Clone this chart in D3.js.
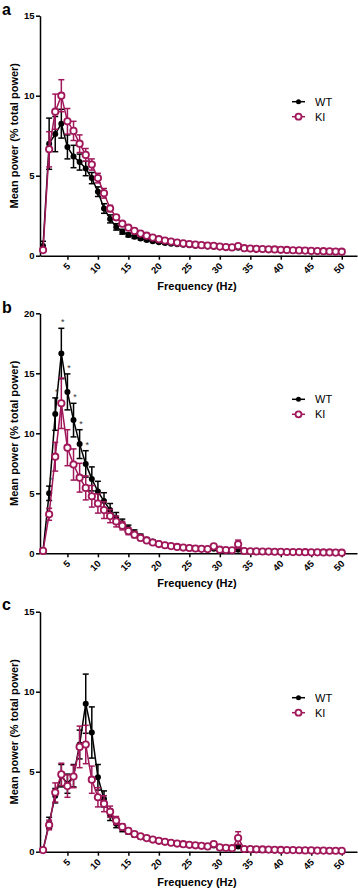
<!DOCTYPE html>
<html>
<head>
<meta charset="utf-8">
<script src="https://cdn.jsdelivr.net/npm/d3@7"></script>
<style>
  body { margin: 0; background: #fff; }
  svg { display: block; font-family: Arial, "Liberation Sans", sans-serif; }
</style>
</head>
<body>
<svg width="358" height="892"></svg>
<script>
// frequencies 1..50 Hz
const freqs = [1,2,3,4,5,6,7,8,9,10,11,12,13,14,15,16,17,18,19,20,21,22,23,24,25,
  26,27,28,29,30,31,32,33,34,35,36,37,38,39,40,41,42,43,44,45,46,47,48,49,50];
const xTicks = [5,10,15,20,25,30,35,40,45,50];
const seriesNames = ["WT", "KI"];

// panel a
const wtA = [0.6,7.0,7.6,8.25,6.8,6.2,5.85,5.45,4.85,4.0,2.95,2.3,1.8,1.5,1.3,1.18,1.07,0.98,0.9,0.84,
  0.79,0.75,0.71,0.68,0.65,0.62,0.6,0.57,0.56,0.53,0.5,0.48,0.5,0.43,0.41,0.4,0.38,0.37,0.35,0.34,
  0.33,0.31,0.3,0.29,0.28,0.26,0.25,0.24,0.23,0.22];
const wtAErr = [0.3,1.6,1.1,0.9,0.75,0.7,0.5,0.45,0.35,0.3,0.3,0.25,0.2,0.15,0.12,0.1,0.08,0.08,0.07,0.06,
  0.06,0.05,0.05,0.05,0.05,0.04,0.04,0.04,0.04,0.04,0.04,0.04,0.05,0.03,0.03,0.03,0.03,0.03,0.03,0.03,
  0.03,0.03,0.03,0.03,0.03,0.03,0.03,0.03,0.03,0.03];
const kiA = [0.35,6.65,9.0,10.0,8.4,7.8,7.0,6.3,5.7,4.85,3.9,2.95,2.4,2.0,1.75,1.55,1.38,1.25,1.13,1.03,
  0.95,0.88,0.82,0.77,0.73,0.69,0.66,0.63,0.62,0.57,0.54,0.52,0.6,0.47,0.45,0.43,0.42,0.4,0.39,0.37,
  0.36,0.34,0.33,0.32,0.3,0.29,0.28,0.27,0.26,0.25];
const kiAErr = [0.1,1.1,1.1,1.0,0.8,0.6,0.55,0.4,0.35,0.3,0.3,0.2,0.15,0.12,0.1,0.08,0.07,0.06,0.06,0.05,
  0.05,0.05,0.04,0.04,0.04,0.04,0.04,0.04,0.04,0.04,0.03,0.03,0.06,0.03,0.03,0.03,0.03,0.03,0.03,0.03,
  0.03,0.03,0.03,0.03,0.03,0.03,0.03,0.03,0.03,0.03];

// panel b
const wtB = [0.25,5.0,11.6,16.65,13.45,11.1,9.1,7.45,6.2,5.15,4.35,3.6,2.95,2.5,2.05,1.7,1.4,1.15,0.98,0.83,
  0.72,0.63,0.56,0.5,0.46,0.42,0.39,0.36,0.38,0.31,0.28,0.26,0.3,0.2,0.18,0.17,0.16,0.15,0.14,0.13,
  0.12,0.11,0.1,0.1,0.09,0.08,0.08,0.07,0.07,0.06];
const wtBErr = [0.1,0.6,1.35,2.1,1.5,1.4,1.2,1.1,1.0,0.85,0.7,0.55,0.45,0.35,0.3,0.25,0.2,0.15,0.12,0.1,
  0.08,0.07,0.06,0.06,0.05,0.05,0.05,0.04,0.05,0.04,0.04,0.04,0.06,0.03,0.03,0.03,0.03,0.03,0.03,0.03,
  0.03,0.03,0.03,0.03,0.03,0.03,0.03,0.03,0.03,0.03];
const kiB = [0.2,3.25,8.05,12.5,8.8,7.4,6.3,5.45,4.75,4.15,3.6,3.1,2.65,2.3,1.85,1.55,1.28,1.07,0.9,0.77,
  0.67,0.6,0.53,0.48,0.44,0.4,0.37,0.35,0.58,0.3,0.27,0.25,0.75,0.19,0.17,0.16,0.15,0.14,0.13,0.12,
  0.11,0.1,0.1,0.09,0.08,0.08,0.07,0.07,0.06,0.05];
const kiBErr = [0.1,0.5,1.2,2.1,1.5,1.3,1.2,1.0,0.9,0.8,0.7,0.55,0.45,0.35,0.3,0.25,0.2,0.15,0.12,0.1,
  0.08,0.07,0.06,0.06,0.05,0.05,0.05,0.04,0.12,0.04,0.04,0.04,0.35,0.03,0.03,0.03,0.03,0.03,0.03,0.03,
  0.03,0.03,0.03,0.03,0.03,0.03,0.03,0.03,0.03,0.03];
const sigB = [2,3,4,5,6,7,8];

// panel c
const wtC = [0.1,1.8,3.5,4.75,4.25,4.75,6.7,9.25,7.45,4.65,3.3,2.3,1.75,1.45,1.25,1.05,0.92,0.82,0.74,0.66,
  0.6,0.54,0.49,0.45,0.41,0.38,0.35,0.32,0.38,0.26,0.23,0.21,0.32,0.16,0.15,0.14,0.13,0.12,0.11,0.1,
  0.1,0.09,0.08,0.08,0.07,0.07,0.06,0.06,0.05,0.05];
const wtCErr = [0.05,0.35,0.45,0.7,0.6,0.7,0.9,1.85,1.6,0.8,0.5,0.35,0.25,0.2,0.15,0.12,0.1,0.08,0.07,0.06,
  0.05,0.05,0.05,0.04,0.04,0.04,0.04,0.04,0.06,0.03,0.03,0.03,0.1,0.03,0.03,0.03,0.03,0.03,0.03,0.03,
  0.03,0.03,0.03,0.03,0.03,0.03,0.03,0.03,0.03,0.03];
const kiC = [0.1,1.67,3.7,4.83,4.1,4.7,6.55,6.7,4.5,3.4,3.0,2.5,1.95,1.55,1.3,1.1,0.96,0.85,0.76,0.68,
  0.62,0.56,0.51,0.47,0.43,0.4,0.37,0.33,0.48,0.27,0.24,0.22,0.85,0.17,0.16,0.15,0.14,0.13,0.12,0.11,
  0.1,0.1,0.09,0.08,0.08,0.07,0.07,0.06,0.06,0.05];
const kiCErr = [0.05,0.3,0.6,0.7,0.7,0.7,1.3,1.2,0.85,0.6,0.5,0.35,0.25,0.2,0.15,0.12,0.1,0.08,0.07,0.06,
  0.05,0.05,0.05,0.04,0.04,0.04,0.04,0.04,0.1,0.03,0.03,0.03,0.4,0.03,0.03,0.03,0.03,0.03,0.03,0.03,
  0.03,0.03,0.03,0.03,0.03,0.03,0.03,0.03,0.03,0.03];

const WT_COL = "#000";
const KI_COL = "#a0175a";

const svg = d3.select("svg");
svg.append("rect").attr("width", 358).attr("height", 892).attr("fill", "#fff");

const x = d3.scaleLinear().domain([0.5, 52.5]).range([40, 357]);

function drawPanel(p) {
  const y = d3.scaleLinear().domain([0, p.yMax]).range([p.y0, p.y0 - 240]);
  const g = svg.append("g");

  // panel letter
  g.append("text")
    .attr("x", 2).attr("y", p.letterY)
    .style("font-size", "16px").style("font-weight", "bold")
    .text(p.letter);

  // y axis
  const ya = g.append("g")
    .attr("transform", "translate(40,0)")
    .call(d3.axisLeft(y).tickValues(p.yTicks).tickSize(4).tickSizeOuter(0).tickPadding(1.5));
  ya.selectAll("path, line").attr("stroke", "#000").attr("stroke-width", 1.5);
  ya.selectAll("text").style("font-size", "9.5px").style("font-weight", "bold").attr("fill", "#000");

  // x axis
  const xa = g.append("g")
    .attr("transform", "translate(0," + p.y0 + ")")
    .call(d3.axisBottom(x).tickValues(xTicks).tickSize(4).tickSizeOuter(0));
  xa.selectAll("path, line").attr("stroke", "#000").attr("stroke-width", 1.5);
  xa.selectAll("text")
    .attr("x", 0).attr("y", 0).attr("dy", 0)
    .attr("transform", "translate(3,11) rotate(-45)")
    .style("text-anchor", "end")
    .style("font-size", "9.5px").style("font-weight", "bold").attr("fill", "#000");

  // axis titles
  g.append("text")
    .attr("transform", "translate(17.5," + (p.y0 - 120) + ") rotate(-90)")
    .attr("text-anchor", "middle")
    .style("font-size", "11px").style("font-weight", "bold")
    .text("Mean power (% total power)");
  g.append("text")
    .attr("x", 197).attr("y", p.y0 + 34)
    .attr("text-anchor", "middle")
    .style("font-size", "11px").style("font-weight", "bold")
    .text("Frequency (Hz)");

  const series = [
    { name: "WT", mean: p.wt, err: p.wtErr, col: WT_COL, open: false },
    { name: "KI", mean: p.ki, err: p.kiErr, col: KI_COL, open: true }
  ];

  series.forEach(s => {
    const pts = freqs.map((f, i) => ({ f: f, m: s.mean[i], e: s.err[i] }));
    const sg = g.append("g");
    sg.append("path")
      .datum(pts)
      .attr("fill", "none").attr("stroke", s.col).attr("stroke-width", 1.5)
      .attr("d", d3.line().x(d => x(d.f)).y(d => y(d.m)));

    const eb = sg.selectAll(".err").data(pts).enter().append("g")
      .attr("stroke", s.col).attr("stroke-width", 1.5);
    eb.append("line")
      .attr("x1", d => x(d.f)).attr("x2", d => x(d.f))
      .attr("y1", d => y(Math.max(0, d.m - d.e))).attr("y2", d => y(d.m + d.e));
    eb.append("line")
      .attr("x1", d => x(d.f) - 3).attr("x2", d => x(d.f) + 3)
      .attr("y1", d => y(d.m + d.e)).attr("y2", d => y(d.m + d.e));
    eb.append("line")
      .attr("x1", d => x(d.f) - 3).attr("x2", d => x(d.f) + 3)
      .attr("y1", d => y(Math.max(0, d.m - d.e))).attr("y2", d => y(Math.max(0, d.m - d.e)));

    sg.selectAll("circle").data(pts).enter().append("circle")
      .attr("cx", d => x(d.f)).attr("cy", d => y(d.m))
      .attr("r", s.open ? 3.2 : 3)
      .attr("fill", s.open ? "#fff" : s.col)
      .attr("stroke", s.col)
      .attr("stroke-width", s.open ? 1.8 : 0);
  });

  // significance marks
  if (p.sig) {
    g.selectAll(".sig").data(p.sig).enter().append("text")
      .attr("x", f => x(f) + 1.5)
      .attr("y", f => y(p.wt[f - 1] + p.wtErr[f - 1]) - 3)
      .attr("text-anchor", "middle")
      .style("font-size", "9px").attr("fill", "#333")
      .text("*");
  }

  // legend
  const lg = g.selectAll(".legend").data(seriesNames).enter().append("g")
    .attr("transform", (d, i) => "translate(0," + (p.y0 - 154 + i * 15) + ")");
  lg.append("line")
    .attr("x1", 292).attr("x2", 305)
    .attr("stroke", d => d === "WT" ? WT_COL : KI_COL).attr("stroke-width", 1.5);
  lg.append("circle")
    .attr("cx", 298.5).attr("cy", 0)
    .attr("r", d => d === "WT" ? 2.5 : 3)
    .attr("fill", d => d === "WT" ? WT_COL : "#fff")
    .attr("stroke", d => d === "WT" ? WT_COL : KI_COL)
    .attr("stroke-width", d => d === "WT" ? 0 : 1.8);
  lg.append("text")
    .attr("x", 315).attr("y", 0).attr("dy", "0.35em")
    .style("font-size", "11px")
    .text(d => d);
}

drawPanel({ letter: "a", letterY: 15, y0: 255.7, yMax: 15, yTicks: [0,5,10,15],
  wt: wtA, wtErr: wtAErr, ki: kiA, kiErr: kiAErr });
drawPanel({ letter: "b", letterY: 313, y0: 553.3, yMax: 20, yTicks: [0,5,10,15,20],
  wt: wtB, wtErr: wtBErr, ki: kiB, kiErr: kiBErr, sig: sigB });
drawPanel({ letter: "c", letterY: 610, y0: 851.7, yMax: 15, yTicks: [0,5,10,15],
  wt: wtC, wtErr: wtCErr, ki: kiC, kiErr: kiCErr });
</script>
</body>
</html>
